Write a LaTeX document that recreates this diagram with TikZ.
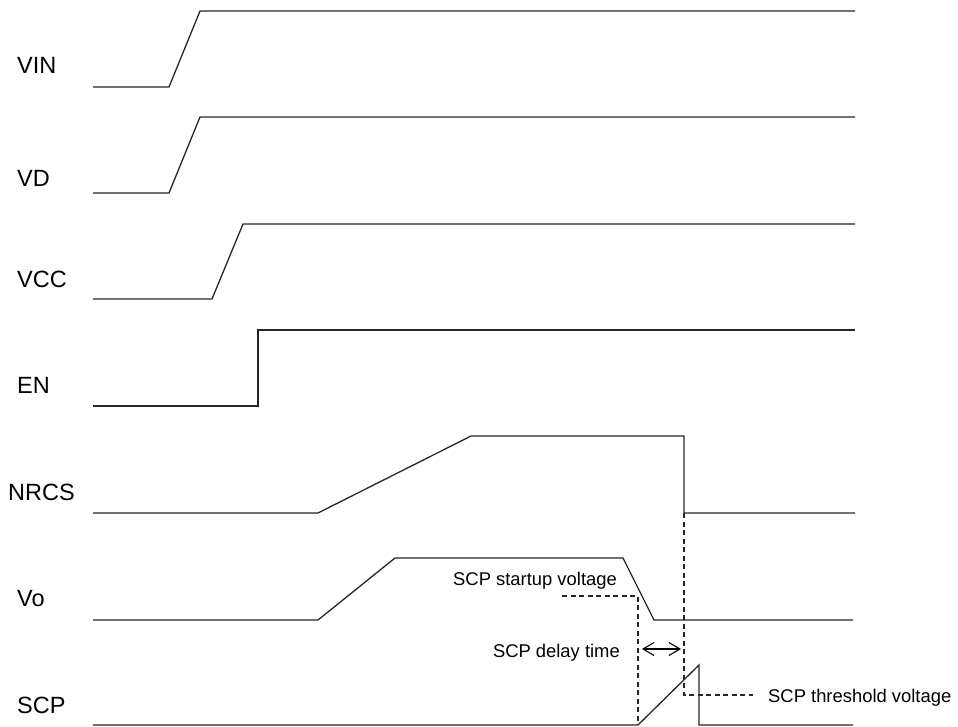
\documentclass[tikz,border=0pt]{standalone}
\usepackage{fontspec}
\setmainfont{Liberation Sans}
\usetikzlibrary{arrows.meta}
\begin{document}
\begin{tikzpicture}[x=1pt,y=-1pt,
  sig/.style={line width=1.3pt,line join=miter,color=black!85},
  dsh/.style={line width=1.1pt,dash pattern=on 5pt off 3.5pt,color=black!85},
  lbl/.style={anchor=base west,inner sep=0pt,font=\fontsize{23.5}{26}\selectfont},
  ann/.style={inner sep=0pt,font=\fontsize{18.4}{21}\selectfont},
  dimarrow/.style={line width=1.1pt,{Straight Barb[length=11pt,width=13pt]}-{Straight Barb[length=11pt,width=13pt]}}]
\useasboundingbox (0,0) rectangle (958,726);
% labels
\node[lbl] (lVIN) at (17,73) {VIN};
\node[lbl] (lVD) at (17,186) {VD};
\node[lbl] (lVCC) at (17,287) {VCC};
\node[lbl] (lEN) at (17,393) {EN};
\node[lbl] (lNRCS) at (8,500) {NRCS};
\node[lbl] (lVo) at (17,606) {Vo};
\node[lbl] (lSCP) at (17,713) {SCP};
% signals
\draw[sig] (93,87) -- (169,87) -- (200,11) -- (855,11);
\draw[sig] (93,193) -- (169,193) -- (200,117) -- (855,117);
\draw[sig] (93,299) -- (212,299) -- (243,224) -- (855,224);
\draw[sig] (93,406) -- (258,406) -- (258,330) -- (855,330);
\draw[sig] (93,513) -- (318,513) -- (471,436) -- (684,436) -- (684,513) -- (855,513);
\draw[sig] (93,620) -- (318,620) -- (395,558) -- (623,558) -- (654,620) -- (853,620);
\draw[sig] (93,725) -- (638,725) -- (699,665) -- (699,725) -- (853,725);
% coordinates
\coordinate (nrcsdrop) at (684,513);
\coordinate (thr) at (684,695);
\coordinate (thrend) at (753,695);
\coordinate (stv0) at (562,596);
\coordinate (stv1) at (638,596);
\coordinate (stv2) at (638,725);
\coordinate (arrL) at (642,649);
\coordinate (arrR) at (681,649);
% dashed
\draw[dsh] (stv0) -- (stv1) -- (stv2);
\draw[dsh] (nrcsdrop) -- (thr) -- (thrend);
\draw[dimarrow] (arrL) -- (arrR);
% annotations
\node[ann,anchor=base west] (tstart) at (453,585) {SCP startup voltage};
\node[ann,anchor=base east] (tdelay) at (620,657) {SCP delay time};
\node[ann,anchor=base west] (tthr) at (768,702) {SCP threshold voltage};
\end{tikzpicture}
\end{document}
